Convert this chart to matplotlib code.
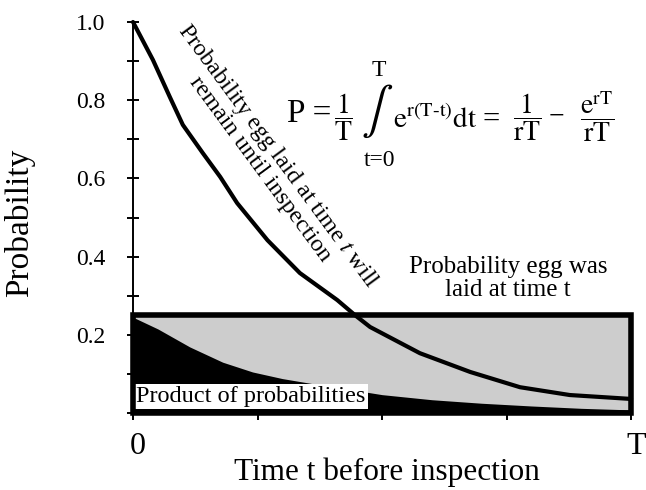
import matplotlib
matplotlib.use('Agg')
import matplotlib.pyplot as plt
import matplotlib.transforms as mtransforms
from matplotlib.patches import Rectangle

# probability that an egg laid at time t will remain until inspection
t_remain = [0.0, 0.04, 0.074, 0.10, 0.14, 0.175, 0.209, 0.27, 0.335, 0.41,
            0.446, 0.476, 0.576, 0.677, 0.777, 0.877, 1.0]
p_remain = [1.0, 0.903, 0.808, 0.737, 0.665, 0.604, 0.537, 0.442, 0.358, 0.289,
            0.25, 0.22, 0.153, 0.105, 0.066, 0.046, 0.036]

# probability egg was laid at time t (uniform)
p_laid = 0.25

# product of probabilities
t_product = [0.0, 0.05, 0.114, 0.18, 0.24, 0.30, 0.375, 0.446, 0.50, 0.60, 0.70, 0.80, 0.90, 1.0]
p_product = [0.245, 0.215, 0.169, 0.13, 0.105, 0.088, 0.072, 0.058, 0.047, 0.034, 0.025, 0.018, 0.012, 0.008]

y_ticks = [0.0, 0.2, 0.4, 0.6, 0.8, 1.0]
y_ticklabels = ['', '0.2', '0.4', '0.6', '0.8', '1.0']
x_ticks = [0.0, 0.25, 0.5, 0.75, 1.0]
x_ticklabels = ['0', '', '', '', 'T']

plt.rcParams['font.family'] = ['Liberation Serif', 'DejaVu Serif']
plt.rcParams['mathtext.fontset'] = 'stix'

fig = plt.figure(figsize=(6.46, 4.90), dpi=100)
ax = fig.add_axes([0.2059, 0.1571, 0.771, 0.798])
ax.set_xlim(0, 1)
ax.set_ylim(0, 1)

# egg laid box
ax.add_patch(Rectangle((0, 0), 1, p_laid, facecolor='#cdcdcd', edgecolor='none', zorder=1))
ax.fill_between(t_product, 0, p_product, color='black', lw=0, zorder=2)
ax.text(0.006, 0.043, 'Product of probabilities', fontsize=17.5, ha='left', va='center',
        zorder=3, bbox=dict(facecolor='white', edgecolor='none', pad=1.5))
ax.add_patch(Rectangle((0, 0), 1, p_laid, facecolor='none', edgecolor='black', lw=4,
                       zorder=4, clip_on=False))

ax.plot(t_remain, p_remain, color='black', lw=3, zorder=5, clip_on=False,
        solid_capstyle='round')

ax.text(0.275, 0.642, 'Probability egg laid at time $\\it{t}$ will\nremain until inspection',
        fontsize=17.5, rotation=-53.6, rotation_mode='anchor', ha='center', va='center',
        multialignment='center', linespacing=0.92)
ax.text(0.753, 0.345, 'Probability egg was\nlaid at time t', fontsize=18,
        ha='center', va='center', multialignment='center', linespacing=1.05)

# formula, built from pieces
ax.text(0.309, 0.744, 'P =', fontsize=24, ha='left', va='baseline')
ax.text(0.422, 0.757, r'$\dfrac{1}{\mathrm{T}}$', fontsize=20, ha='center', va='center')
ax.text(0.490, 0.770, r'$\int$', fontsize=34, ha='center', va='center')
ax.text(0.494, 0.877, 'T', fontsize=17, ha='center', va='center')
ax.text(0.494, 0.647, 't=0', fontsize=17, ha='center', va='center')
ax.text(0.522, 0.729, r'$\mathrm{e}^{\mathrm{r(T\text{-}t)}}\mathrm{dt}$', fontsize=21,
        ha='left', va='baseline')
ax.text(0.719, 0.749, '=', fontsize=22, ha='center', va='center')
ax.text(0.791, 0.757, r'$\dfrac{1}{\mathrm{rT}}$', fontsize=20, ha='center', va='center')
ax.text(0.851, 0.757, '\u2212', fontsize=20, ha='center', va='center')
ax.text(0.932, 0.757, r'$\dfrac{\mathrm{e}^{\mathrm{rT}}}{\mathrm{rT}}$', fontsize=20,
        ha='center', va='center')

for s in ['top', 'right', 'bottom']:
    ax.spines[s].set_visible(False)
ax.spines['left'].set_linewidth(1.4)

ax.set_yticks(y_ticks)
ax.set_yticklabels(y_ticklabels, fontsize=17)
ax.set_yticks([0.1, 0.3, 0.5, 0.7, 0.9], minor=True)
ax.tick_params(axis='y', which='both', direction='inout', length=8, width=1.4, pad=16)

ax.set_xticks(x_ticks)
ax.set_xticklabels(x_ticklabels, fontsize=23)
ax.tick_params(axis='x', direction='out', length=5, width=1.4, pad=9)
offset = mtransforms.ScaledTranslation(5 / 100, 0, fig.dpi_scale_trans)
for lab in ax.get_xticklabels():
    lab.set_transform(lab.get_transform() + offset)

ax.set_ylabel('Probability', fontsize=24)
ax.yaxis.set_label_coords(-0.197, 0.486)
ax.set_xlabel('Time t before inspection', fontsize=22.5)
ax.xaxis.set_label_coords(0.51, -0.115)

fig.savefig('out.png', dpi=100)
